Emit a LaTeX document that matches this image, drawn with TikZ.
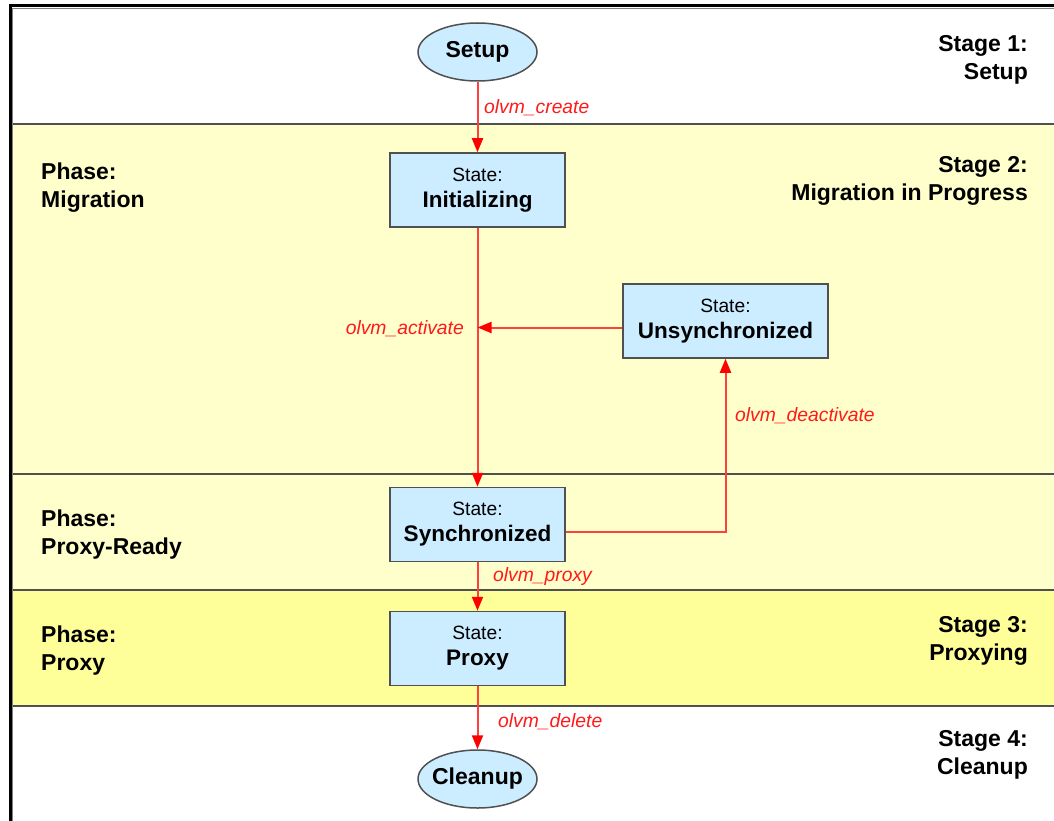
\documentclass[tikz,border=0pt]{standalone}
\usepackage{fontspec}
\setmainfont{Liberation Sans}
\usetikzlibrary{arrows.meta,shapes.geometric}
\definecolor{bandlight}{HTML}{FFFFCC}
\definecolor{banddeep}{HTML}{FFFF99}
\definecolor{statefill}{HTML}{CCECFF}
\definecolor{edgegray}{HTML}{505050}
\definecolor{flowred}{HTML}{FF4040}
\definecolor{labelred}{HTML}{FF1A1A}
\begin{document}
\begin{tikzpicture}[x=1pt,y=-1pt,
  statebox/.style={rectangle, draw=edgegray, line width=1.5pt, fill=statefill,
    minimum width=175pt, minimum height=74pt, inner sep=0pt, align=center,
    font=\fontsize{19.2}{26}\selectfont},
  terminal/.style={ellipse, draw=edgegray, line width=1.5pt, fill=statefill,
    minimum width=119pt, minimum height=58pt, inner xsep=-12pt, inner ysep=0pt,
    font=\fontsize{23}{26}\selectfont\bfseries},
  flowline/.style={color=flowred, line width=2pt},
  flow/.style={flowline, -{Triangle[length=14pt,width=11pt,color=red]}},
  flowlabel/.style={inner sep=0pt, text=labelred,
    font=\fontsize{19.3}{22}\selectfont\itshape},
  stagetext/.style={inner sep=0pt, align=right, anchor=east,
    font=\fontsize{23}{28}\selectfont\bfseries},
  phasetext/.style={inner sep=0pt, align=left, anchor=west,
    font=\fontsize{23}{28}\selectfont\bfseries},
  divider/.style={draw=edgegray, line width=2pt}
]
\useasboundingbox (0,0) rectangle (1054,821);

% swim-lane bands
\fill[white] (10,6) rectangle (1054,821);
\fill[bandlight] (10,124) rectangle (1054,474);
\fill[bandlight] (10,474) rectangle (1054,590);
\fill[banddeep]  (10,590) rectangle (1054,706);
\draw[divider] (11,124) -- (1054,124);
\draw[divider] (11,474) -- (1054,474);
\draw[divider] (11,590) -- (1054,590);
\draw[divider] (11,706) -- (1054,706);

% outer frame
\draw[black, line width=3pt] (10,821) -- (10,6) -- (1054,6);
\draw[gray, line width=1.2pt] (12.2,821) -- (12.2,8.2) -- (1054,8.2);

% stage and phase captions
\node[stagetext] (stage1) at (1028,60)    {Stage 1:\\Setup};
\node[stagetext] (stage2) at (1028,180.5) {Stage 2:\\Migration in Progress};
\node[stagetext] (stage3) at (1028,641)   {Stage 3:\\Proxying};
\node[stagetext] (stage4) at (1028,755)   {Stage 4:\\Cleanup};
\node[phasetext] (phase1) at (41,188)     {Phase:\\Migration};
\node[phasetext] (phase2) at (41,535)     {Phase:\\Proxy-Ready};
\node[phasetext] (phase3) at (41,651)     {Phase:\\Proxy};

% states
\node[terminal] (setup)   at (477.5,52)  {Setup};
\node[statebox] (init)    at (477.5,190) {State:\\{\fontsize{22.5}{26}\selectfont\bfseries Initializing}};
\node[statebox, minimum width=205pt] (unsync) at (725.5,321) {State:\\{\fontsize{22.5}{26}\selectfont\bfseries Unsynchronized}};
\node[statebox] (sync)    at (477.5,524.5) {State:\\{\fontsize{22.5}{26}\selectfont\bfseries Synchronized}};
\node[statebox] (proxy)   at (477.5,648.5) {State:\\{\fontsize{22.5}{26}\selectfont\bfseries Proxy}};
\node[terminal] (cleanup) at (477.5,779) {Cleanup};

% transitions
\coordinate (actjoin) at (477.5,327.5);
\coordinate (deacty) at (0,531.5);
\draw[flow] (setup) -- (init);
\draw[flowline] (init) -- (actjoin);
\draw[flow] (actjoin) -- (sync);
\draw[flow] (unsync.west |- actjoin) -- (actjoin);
\draw[flow] (sync.east |- deacty) -| (unsync.south);
\draw[flow] (sync) -- (proxy);
\draw[flow] (proxy) -- (cleanup);

% transition labels
\node[flowlabel, anchor=west] (lcreate) at (484,108)   {olvm\_create};
\node[flowlabel, anchor=east] (lact)    at (464,329)   {olvm\_activate};
\node[flowlabel, anchor=west] (ldeact)  at (735,416)   {olvm\_deactivate};
\node[flowlabel, anchor=west] (lproxy)  at (493,577)   {olvm\_proxy};
\node[flowlabel, anchor=west] (ldelete) at (498,722)   {olvm\_delete};
\end{tikzpicture}
\end{document}
